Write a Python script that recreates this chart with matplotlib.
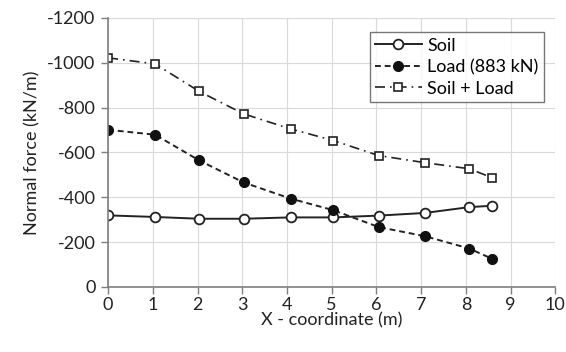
import numpy as np
import matplotlib
matplotlib.use("Agg")
import matplotlib.pyplot as plt

plt.rcParams['font.family'] = ['Lato', 'DejaVu Sans']
plt.rcParams['axes.unicode_minus'] = False

# data
x = [0, 1.05, 2.04, 3.03, 4.08, 5.04, 6.05, 7.09, 8.08, 8.59]
soil = [-319, -312, -304, -304, -310, -310, -318, -330, -356, -362]
load = [-701, -679, -564, -466, -394, -342, -267, -226, -171, -125]
soil_load = [-1022, -995, -872, -772, -705, -653, -586, -554, -527, -487]

fig = plt.figure(figsize=(5.66, 3.52), dpi=100)
ax = fig.add_axes([0.191, 0.185, 0.79, 0.764])

ax.plot(x, soil, '-', color='#222222', lw=1.4, marker='o', ms=7,
        mfc='white', mec='#222222', mew=1.3, label='Soil')
ax.plot(x, load, color='#222222', lw=1.4, ls=(0, (3, 2)), marker='o', ms=7,
        mfc='#111111', mec='#111111', label='Load (883 kN)')
ax.plot(x, soil_load, color='#222222', lw=1.2, ls=(0, (6, 3, 1, 3)), marker='s', ms=6,
        mfc='white', mec='#222222', mew=1.2, label='Soil + Load')

ax.set_xlim(0, 10)
ax.set_ylim(0, -1200)
ax.set_xticks(range(0, 11))
ax.set_yticks(range(0, -1201, -200))
ax.grid(True, color='#d9d9d9', lw=0.8)
ax.set_axisbelow(True)
for s in ['top', 'right']:
    ax.spines[s].set_visible(False)
for s in ['left', 'bottom']:
    ax.spines[s].set_color('#7f7f7f')
    ax.spines[s].set_linewidth(1.2)
ax.tick_params(colors='#7f7f7f', labelcolor='#222222', labelsize=13, length=5, width=1)
ax.tick_params(axis='x', pad=2)
ax.tick_params(axis='y', pad=4)
ax.set_xlabel('X - coordinate (m)', fontsize=13, color='#222222', labelpad=0)
ax.set_ylabel('Normal force (kN/m)', fontsize=13, color='#222222', labelpad=5)

leg = ax.legend(loc='upper right', bbox_to_anchor=(0.995, 0.98), fontsize=13,
                frameon=True, fancybox=False, edgecolor='#555555', handlelength=2.6,
                borderpad=0.3, labelspacing=0.3, handletextpad=0.3)
leg.get_frame().set_linewidth(1.0)

fig.savefig('out.png', dpi=100)
